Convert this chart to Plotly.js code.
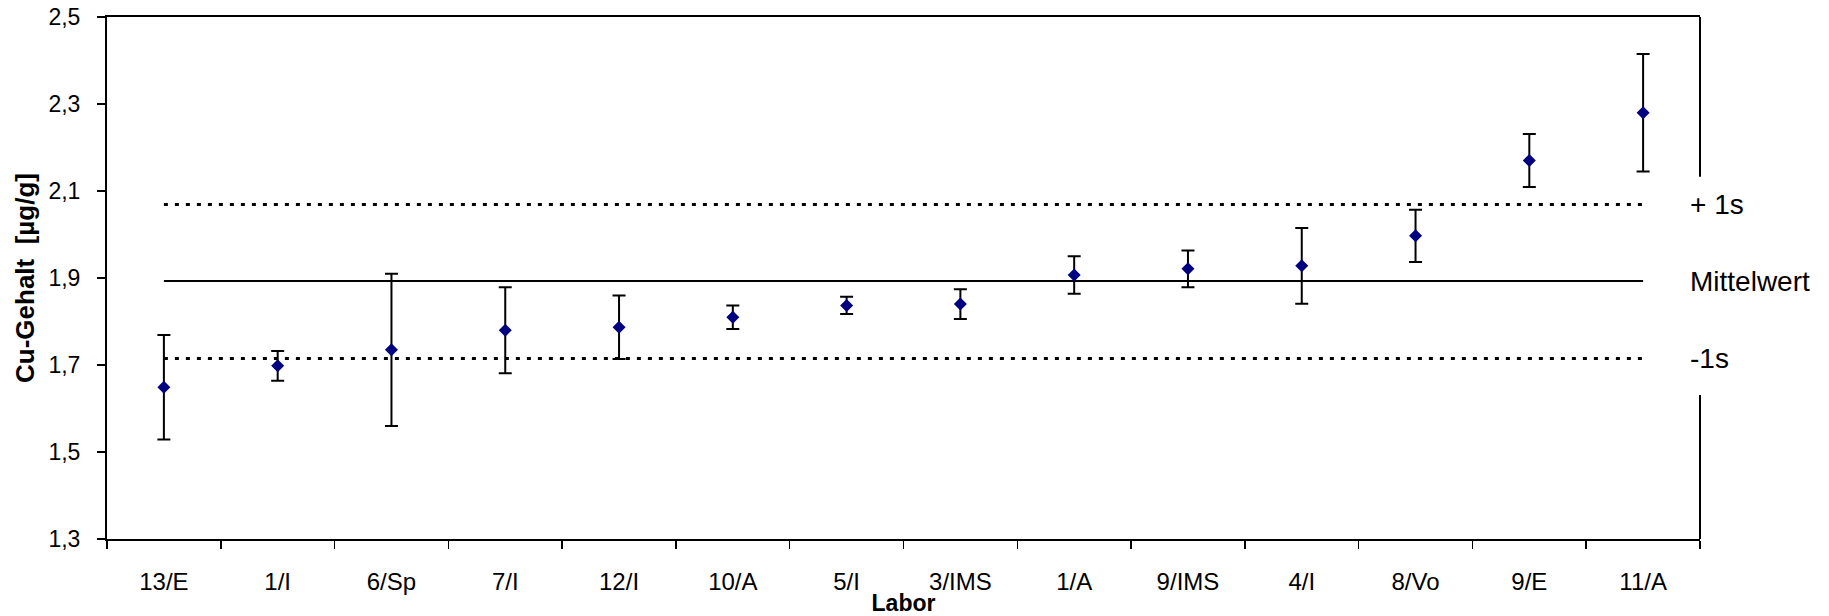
<!DOCTYPE html>
<html>
<head>
<meta charset="utf-8">
<script src="https://cdn.plot.ly/plotly-3.0.1.min.js"></script>
<style>html,body{margin:0;padding:0;background:#fff;}#chart{width:1829px;height:616px;}</style>
</head>
<body>
<div id="chart"></div>
<script>
var labs = ['13/E','1/I','6/Sp','7/I','12/I','10/A','5/I','3/IMS','1/A','9/IMS','4/I','8/Vo','9/E','11/A'];
var cuValues = [1.649,1.698,1.735,1.780,1.787,1.810,1.837,1.840,1.907,1.921,1.928,1.997,2.170,2.280];
var cuErrors = [0.120,0.034,0.175,0.099,0.073,0.027,0.020,0.034,0.043,0.042,0.087,0.060,0.061,0.135];
var meanValue = 1.893;
var plusS = 2.069;
var minusS = 1.715;
var refLabels = ['+ 1s','Mittelwert','-1s'];
var refValues = [plusS, meanValue, minusS];
var yTicks = [1.3,1.5,1.7,1.9,2.1,2.3,2.5];

var FONT = 'Arial, "Liberation Sans", sans-serif';
var ends = [labs[0], labs[labs.length-1]];

var traces = [
  {x: ends, y: [plusS, plusS], mode: 'lines', line: {color: '#000', width: 3, dash: '4px,7px'}, hoverinfo: 'skip'},
  {x: ends, y: [minusS, minusS], mode: 'lines', line: {color: '#000', width: 3, dash: '4px,7px'}, hoverinfo: 'skip'},
  {x: ends, y: [meanValue, meanValue], mode: 'lines', line: {color: '#000', width: 2}, hoverinfo: 'skip'},
  {x: labs, y: cuValues, mode: 'markers', type: 'scatter',
   marker: {symbol: 'diamond', size: 10, color: '#000080', line: {width: 0}},
   error_y: {type: 'data', array: cuErrors, visible: true, color: '#000', thickness: 2, width: 6.5}}
];

var annotations = refLabels.map(function(t, i){
  return {xref: 'paper', yref: 'y', x: 1, y: refValues[i], xanchor: 'left', yanchor: 'middle',
          xshift: -12, text: t, showarrow: false, font: {family: FONT, size: 28, color: '#000'}};
});

var layout = {
  width: 1829, height: 616,
  margin: {l: 107, r: 129, t: 17, b: 77, pad: 0},
  paper_bgcolor: '#fff', plot_bgcolor: '#fff',
  showlegend: false,
  separators: ',.',
  font: {family: FONT, color: '#000'},
  xaxis: {
    type: 'category', categoryorder: 'array', categoryarray: labs,
    range: [-0.5, labs.length - 0.5],
    tickson: 'boundaries', ticks: 'outside', ticklen: 8, tickwidth: 1.5, tickcolor: '#000',
    showline: true, linecolor: '#000', linewidth: 2, mirror: true,
    showgrid: false, zeroline: false,
    tickfont: {family: FONT, size: 24, color: '#000'},
    ticklabelstandoff: 20,
    title: {text: '<b>Labor</b>', font: {family: FONT, size: 23, color: '#000'}, standoff: 1}
  },
  yaxis: {
    range: [1.3, 2.5], tickmode: 'array', tickvals: yTicks, tickformat: '.1f',
    ticks: 'outside', ticklen: 8, tickwidth: 1.5, tickcolor: '#000',
    showline: true, linecolor: '#000', linewidth: 2,
    showgrid: false, zeroline: false,
    tickfont: {family: FONT, size: 23, color: '#000'},
    ticklabelstandoff: 12,
    title: {text: '<b>Cu-Gehalt \u00a0[µg/g]</b>', font: {family: FONT, size: 26, color: '#000'}, standoff: 6}
  },
  shapes: [
    {type: 'line', xref: 'paper', yref: 'y', x0: 1, x1: 1, y0: 2.5, y1: 2.133, line: {color: '#000', width: 2}},
    {type: 'line', xref: 'paper', yref: 'y', x0: 1, x1: 1, y0: 1.631, y1: 1.3, line: {color: '#000', width: 2}}
  ],
  annotations: annotations
};

Plotly.newPlot('chart', traces, layout, {staticPlot: true, displayModeBar: false});
</script>
</body>
</html>
